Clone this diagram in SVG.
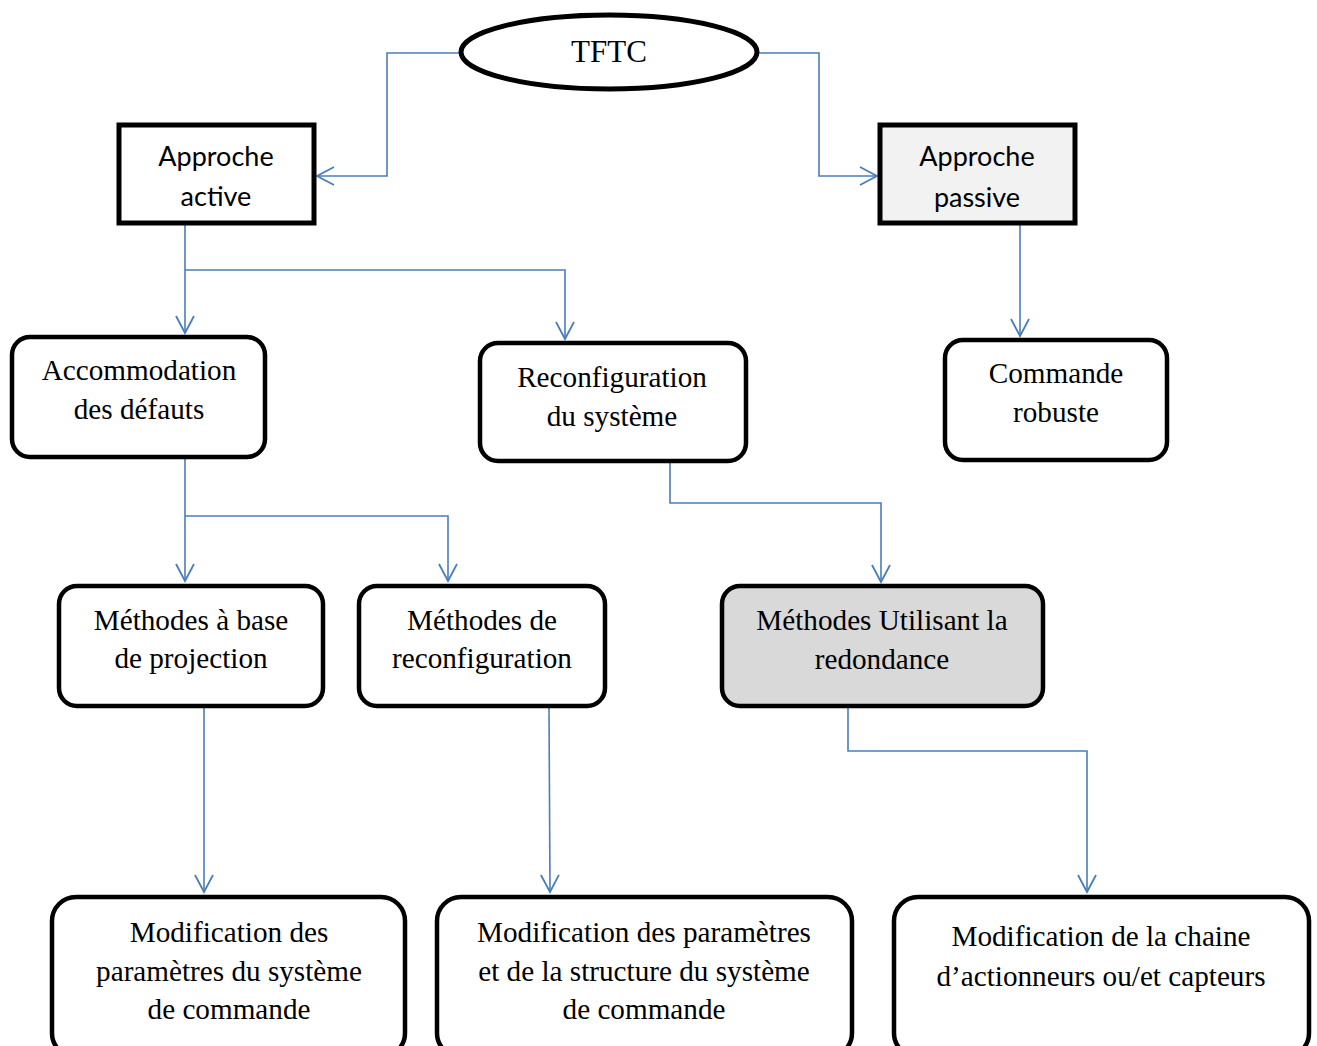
<svg xmlns="http://www.w3.org/2000/svg" width="1317" height="1046" viewBox="0 0 1317 1046">
  <style>
    .box { fill: #ffffff; stroke: #000000; stroke-width: 4.5; }
    .sq { stroke-width: 5; }
    .grey1 { fill: #f2f2f2; }
    .grey2 { fill: #d9d9d9; }
    .serif { font-family: "Liberation Serif", "Times New Roman", serif; font-size: 29.2px; fill: #000; text-anchor: middle; }
    .sans { font-family: Lato, "Open Sans", sans-serif; font-size: 27px; fill: #000; text-anchor: middle; }
    .title { font-size: 31px; }
    .link { fill: none; stroke: #4a7ebb; stroke-width: 1.6; marker-end: url(#arrow); }
  </style>
  <defs>
    <marker id="arrow" markerUnits="userSpaceOnUse" viewBox="-18 -10 20 20" markerWidth="20" markerHeight="20" refX="0" refY="0" orient="auto">
      <path d="M -17 -9 L 0 0 L -17 9" fill="none" stroke="#4a7ebb" stroke-width="1.8"/>
    </marker>
  </defs>

  <rect width="1317" height="1046" fill="#ffffff"/>

  <!-- connectors -->
  <g id="connectors">
    <path class="link" d="M 460 53 H 387 V 176 H 317"/>
    <path class="link" d="M 758 53 H 819 V 176 H 877"/>
    <path class="link" d="M 185 224 V 333"/>
    <path class="link" d="M 185 270 H 565 V 339"/>
    <path class="link" d="M 1020 224 V 336"/>
    <path class="link" d="M 185 458 V 581"/>
    <path class="link" d="M 185 516 H 448 V 581"/>
    <path class="link" d="M 670 462 V 503 H 881 V 582"/>
    <path class="link" d="M 204 707 V 892"/>
    <path class="link" d="M 549 707 L 550 892"/>
    <path class="link" d="M 848 707 V 751 H 1087 V 892"/>
  </g>

  <!-- root -->
  <g id="tftc">
    <ellipse cx="609" cy="52" rx="148" ry="37" fill="#ffffff" stroke="#000" stroke-width="5"/>
    <text class="serif title" x="609" y="62">TFTC</text>
  </g>

  <g id="approche-active">
    <rect class="box sq" x="119" y="125" width="195" height="98"/>
    <text class="sans" x="216" y="166">Approche</text>
    <text class="sans" x="216" y="206">active</text>
  </g>

  <g id="approche-passive">
    <rect class="box sq grey1" x="880" y="125" width="195" height="98"/>
    <text class="sans" x="977" y="166">Approche</text>
    <text class="sans" x="977" y="207">passive</text>
  </g>

  <g id="accommodation">
    <rect class="box" x="12" y="337" width="253" height="120" rx="18"/>
    <text class="serif" x="139" y="380">Accommodation</text>
    <text class="serif" x="139" y="419">des défauts</text>
  </g>

  <g id="reconfiguration">
    <rect class="box" x="480" y="343" width="266" height="118" rx="18"/>
    <text class="serif" x="612" y="387">Reconfiguration</text>
    <text class="serif" x="612" y="426">du système</text>
  </g>

  <g id="commande-robuste">
    <rect class="box" x="945" y="340" width="222" height="120" rx="18"/>
    <text class="serif" x="1056" y="383">Commande</text>
    <text class="serif" x="1056" y="422">robuste</text>
  </g>

  <g id="methodes-projection">
    <rect class="box" x="59" y="586" width="264" height="120" rx="18"/>
    <text class="serif" x="191" y="630">Méthodes à base</text>
    <text class="serif" x="191" y="668">de projection</text>
  </g>

  <g id="methodes-reconfiguration">
    <rect class="box" x="359" y="586" width="246" height="120" rx="18"/>
    <text class="serif" x="482" y="630">Méthodes de</text>
    <text class="serif" x="482" y="668">reconfiguration</text>
  </g>

  <g id="methodes-redondance">
    <rect class="box grey2" x="722" y="586" width="321" height="120" rx="18"/>
    <text class="serif" x="882" y="630">Méthodes Utilisant la</text>
    <text class="serif" x="882" y="669">redondance</text>
  </g>

  <g id="modif-parametres">
    <rect class="box" x="52" y="897" width="353" height="160" rx="24"/>
    <text class="serif" x="229" y="942">Modification des</text>
    <text class="serif" x="229" y="981">paramètres du système</text>
    <text class="serif" x="229" y="1019">de commande</text>
  </g>

  <g id="modif-structure">
    <rect class="box" x="437" y="897" width="415" height="160" rx="24"/>
    <text class="serif" x="644" y="942">Modification des paramètres</text>
    <text class="serif" x="644" y="981">et de la structure du système</text>
    <text class="serif" x="644" y="1019">de commande</text>
  </g>

  <g id="modif-chaine">
    <rect class="box" x="894" y="897" width="415" height="160" rx="24"/>
    <text class="serif" x="1101" y="946">Modification de la chaine</text>
    <text class="serif" x="1101" y="986">d’actionneurs ou/et capteurs</text>
  </g>
</svg>
